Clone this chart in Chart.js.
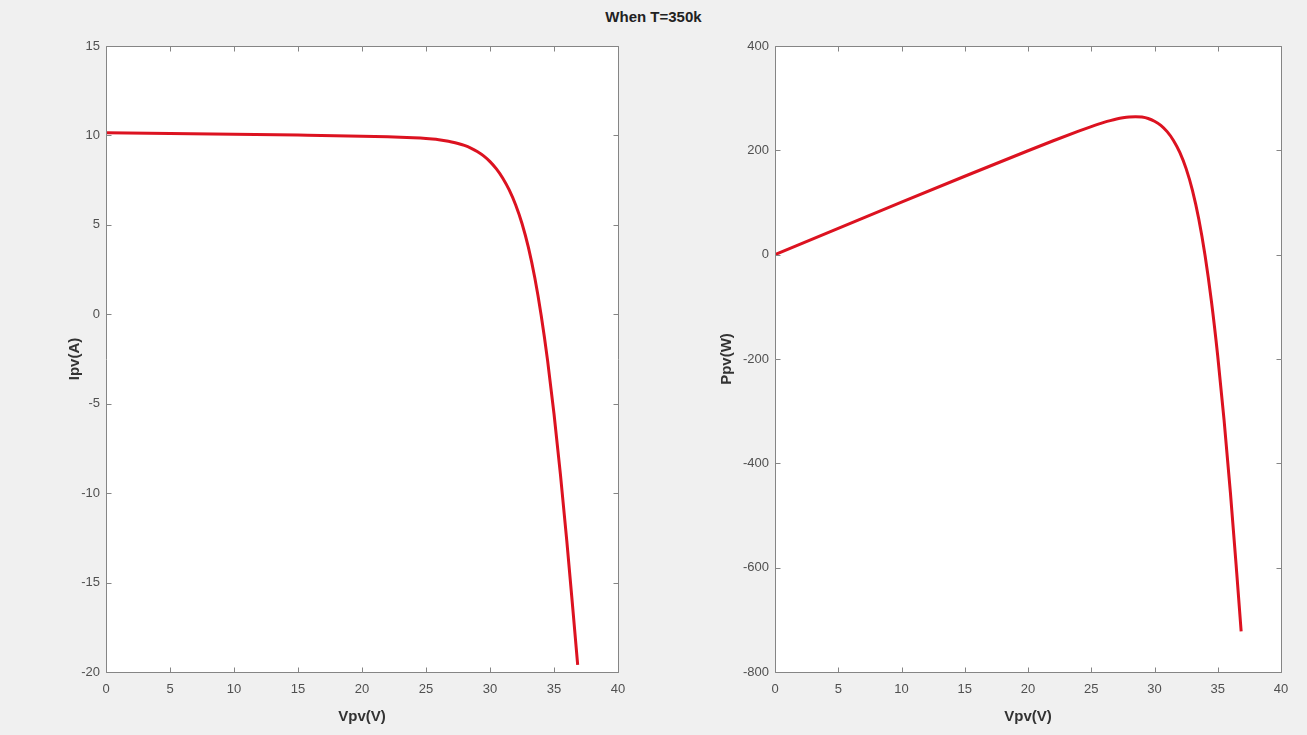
<!DOCTYPE html>
<html>
<head>
<meta charset="utf-8">
<script src="https://cdn.jsdelivr.net/npm/chart.js@4/dist/chart.umd.min.js"></script>
<style>
  html, body { margin: 0; padding: 0; background: #f0f0f0; }
  body { width: 1307px; height: 735px; position: relative; overflow: hidden; font-family: "Liberation Sans", Arial, sans-serif; }
  #title { position: absolute; left: 0; width: 1307px; top: 8px; line-height: 18px; text-align: center; font-weight: bold; font-size: 15px; color: #222; }
  .box { position: absolute; top: 0; height: 735px; }
  #left { left: 0; width: 660px; }
  #right { left: 660px; width: 647px; }
</style>
</head>
<body>
<div id="title">When T=350k</div>
<div class="box" id="left"><canvas id="ivChart"></canvas></div>
<div class="box" id="right"><canvas id="pvChart"></canvas></div>
<script>
// Vpv (V) samples along the curves
var vpv = [0, 5, 10, 15, 20, 22, 24, 25, 25.5, 26, 26.5, 27, 27.5, 28, 28.5, 29, 29.5, 30, 30.5, 31, 31.5,
           32, 32.5, 33, 33.5, 34, 34.5, 35, 35.5, 36, 36.5, 36.85];
// Ipv (A)
var ipv = [10.15, 10.11, 10.07, 10.02, 9.96, 9.925, 9.87, 9.83, 9.80, 9.76, 9.705, 9.635, 9.55, 9.44, 9.295, 9.105, 8.858, 8.538, 8.128, 7.608, 6.953,
           6.125, 5.075, 3.738, 2.038, -0.063, -2.588, -5.563, -8.938, -12.663, -16.713, -19.6];
// Ppv (W)
var ppv = [0, 50.55, 100.7, 150.3, 199.2, 218.35, 236.75, 245.55, 249.7, 253.5, 256.9, 259.9, 262.3, 264.0, 264.6, 263.7, 261.0, 255.8, 247.9, 235.8, 219.0,
           196.0, 164.9, 123.3, 68.3, -2.1, -89.3, -194.7, -317.3, -455.9, -610.0, -722.3];

var xTicks = { min: 0, max: 40, step: 5 };
var ivTicks = { min: -20, max: 15, step: 5 };
var pvTicks = { min: -800, max: 400, step: 200 };

var FONT = "Liberation Sans, Arial, sans-serif";
var RED = "#dc1220";

// white axes area + MATLAB style box with inward ticks
var axesBox = {
  id: "axesBox",
  beforeDraw: function (chart) {
    var a = chart.chartArea, ctx = chart.ctx;
    ctx.save();
    ctx.fillStyle = "#ffffff";
    ctx.fillRect(a.left, a.top, a.right - a.left, a.bottom - a.top);
    ctx.restore();
  },
  afterDatasetsDraw: function (chart) {
    var a = chart.chartArea, ctx = chart.ctx;
    var L = Math.round(a.left) + 0.5, R = Math.round(a.right) + 0.5;
    var T = Math.round(a.top) + 0.5, B = Math.round(a.bottom) + 0.5;
    var len = 5;
    ctx.save();
    ctx.strokeStyle = "#858585";
    ctx.lineWidth = 1;
    ctx.beginPath();
    ctx.rect(L, T, R - L, B - T);
    chart.scales.x.ticks.forEach(function (t) {
      var px = Math.round(chart.scales.x.getPixelForValue(t.value)) + 0.5;
      ctx.moveTo(px, B); ctx.lineTo(px, B - len);
      ctx.moveTo(px, T); ctx.lineTo(px, T + len);
    });
    chart.scales.y.ticks.forEach(function (t) {
      var py = Math.round(chart.scales.y.getPixelForValue(t.value)) + 0.5;
      ctx.moveTo(L, py); ctx.lineTo(L + len, py);
      ctx.moveTo(R, py); ctx.lineTo(R - len, py);
    });
    ctx.stroke();
    ctx.restore();
  }
};

function makeChart(canvas, values, yRange, yLabel, pad, yWidth) {
  var pts = vpv.map(function (v, i) { return { x: v, y: values[i] }; });
  return new Chart(canvas, {
    type: "line",
    data: {
      datasets: [{
        data: pts, borderColor: RED, backgroundColor: RED,
        borderWidth: 3, pointRadius: 0, cubicInterpolationMode: "monotone", fill: false
      }]
    },
    options: {
      responsive: true, maintainAspectRatio: false, animation: false,
      layout: { padding: pad },
      plugins: { legend: { display: false }, tooltip: { enabled: false } },
      scales: {
        x: {
          type: "linear", min: xTicks.min, max: xTicks.max,
          afterFit: function (s) { s.height = 54; },
          ticks: { stepSize: xTicks.step, padding: 10, color: "#505050", font: { family: FONT, size: 13 } },
          grid: { display: false, drawTicks: false },
          border: { display: false },
          title: { display: true, text: "Vpv(V)", color: "#333", padding: 0, font: { family: FONT, size: 15, weight: "bold" } }
        },
        y: {
          type: "linear", min: yRange.min, max: yRange.max,
          afterFit: function (s) { s.width = yWidth; },
          ticks: { stepSize: yRange.step, padding: 6, color: "#505050", font: { family: FONT, size: 13 } },
          grid: { display: false, drawTicks: false },
          border: { display: false },
          title: { display: true, text: yLabel, color: "#333", padding: 0, font: { family: FONT, size: 15, weight: "bold" } }
        }
      }
    },
    plugins: [axesBox]
  });
}

makeChart(document.getElementById("ivChart"), ipv, ivTicks, "Ipv(A)",
  { left: 66, right: 42, top: 46, bottom: 9 }, 40);
makeChart(document.getElementById("pvChart"), ppv, pvTicks, "Ppv(W)",
  { left: 58, right: 26, top: 46, bottom: 9 }, 57);
</script>
</body>
</html>
